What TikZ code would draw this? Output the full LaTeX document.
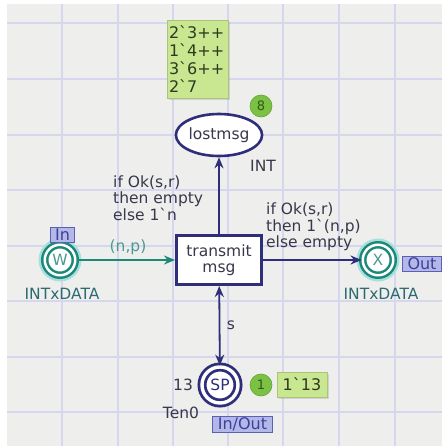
\documentclass[tikz,border=0pt]{standalone}
\usepackage{fontspec}
\newfontfamily\cpnfont{DejaVu Sans}
\usetikzlibrary{arrows.meta,shapes.geometric,shadows}

\definecolor{canvas}{HTML}{EEEEEC}
\definecolor{gridline}{HTML}{D6D6EE}
\definecolor{navy}{HTML}{2E2E7A}
\definecolor{tealc}{HTML}{1B8878}
\definecolor{tealtext}{HTML}{4A9A90}
\definecolor{tealglow}{HTML}{A8E0E0}
\definecolor{tagfill}{HTML}{B4B8E8}
\definecolor{tagdraw}{HTML}{5A60B4}
\definecolor{tagtext}{HTML}{3C4098}
\definecolor{tokfill}{HTML}{7CC144}
\definecolor{tokdraw}{HTML}{62A634}
\definecolor{toktext}{HTML}{2C5A14}
\definecolor{markfill}{HTML}{C9E690}
\definecolor{marktext}{HTML}{2E3A1E}
\definecolor{inscr}{HTML}{38384C}
\definecolor{typec}{HTML}{2C6A72}

\tikzset{
  txt/.style={font=\cpnfont\fontsize{15.5}{16.5}\selectfont, inner sep=0pt},
  transbox/.style={txt, draw=navy, line width=2.6pt, fill=white,
    minimum width=85.4pt, minimum height=49.4pt, align=center, text=inscr},
  lostplace/.style={txt, ellipse, draw=navy, line width=2.6pt, fill=white,
    minimum width=79.4pt, minimum height=42pt, text=inscr},
  tealplace/.style={txt, circle, draw=tealc, line width=2.5pt, double=white,
    double distance=2.5pt, fill=white, minimum size=30.5pt, text=tealtext},
  spplace/.style={txt, circle, draw=navy, line width=2.8pt, double=white,
    double distance=3.4pt, fill=white, minimum size=36pt, text=navy},
  porttag/.style={font=\cpnfont\fontsize{16}{16}\selectfont, draw=tagdraw,
    fill=tagfill, line width=1pt, text=tagtext, inner xsep=5pt,
    inner ysep=0pt, minimum height=15.5pt},
  token/.style={circle, fill=tokfill, draw=tokdraw, line width=0.6pt,
    minimum size=22pt, inner sep=0pt, text=toktext,
    font=\cpnfont\fontsize{13}{13}\selectfont},
  marking/.style={font=\cpnfont\fontsize{16}{18}\selectfont, fill=markfill,
    draw=markfill!85!black, line width=0.4pt, text=marktext, align=left,
    inner sep=2pt,
    drop shadow={shadow xshift=2pt, shadow yshift=-2pt, opacity=0.25}},
  inscrtxt/.style={txt, text=inscr, align=left},
  navyarc/.style={draw=navy, line width=1.8pt, -{Stealth[length=11pt,width=9pt]}},
  tealarc/.style={draw=tealc, line width=1.8pt, -{Stealth[length=11pt,width=9pt]}},
}

\begin{document}
\begin{tikzpicture}[x=1pt,y=-1pt]
\useasboundingbox (0,0) rectangle (442,446);
% page and grid
\fill[white] (0,0) rectangle (442,446);
\fill[canvas] (7,4) rectangle (442,446);
\foreach \gx in {62,118,173,228,283,339,395}
  \draw[gridline, line width=1.6pt] (\gx,4) -- (\gx,446);
\foreach \gy in {23,79,135,190,246,301,357,412}
  \draw[gridline, line width=1.6pt] (7,\gy) -- (442,\gy);

% transition and places
\node[transbox] (tr) at (219,260) {transmit\\msg};
\node[lostplace] (lost) at (219,135) {lostmsg};
\fill[tealglow] (60,260) circle[radius=21.5];
\node[tealplace] (W) at (60,260) {W};
\fill[tealglow] (378,260) circle[radius=21.5];
\node[tealplace] (X) at (378,260) {X};
\node[spplace] (SP) at (220,385) {SP};

% arcs
\draw[tealarc] (W) -- (tr);
\draw[navyarc] (tr) -- (lost);
\draw[navyarc] (tr) -- (X);
\draw[navyarc, {Stealth[length=11pt,width=9pt]}-{Stealth[length=11pt,width=9pt]}] (tr) -- (SP);

% arc inscriptions
\node[inscrtxt, anchor=west] (inLost) at (113,198) {if Ok(s,r)\\then empty\\else 1`n};
\node[inscrtxt, anchor=west] (inOut) at (266,227) {if Ok(s,r)\\then 1`(n,p)\\else empty};
\node[txt, text=tealtext] (inNP) at (128,247) {(n,p)};
\node[txt, text=inscr] (inS) at (231,325) {s};

% colour sets, initial marking, port tags
\node[txt, text=inscr] (tyLost) at (263,166) {INT};
\node[txt, text=typec] (tyW) at (62,294) {INTxDATA};
\node[txt, text=typec] (tyX) at (381,294) {INTxDATA};
\node[txt, text=inscr] (tySP) at (181,413) {Ten0};
\node[txt, text=inscr] (initSP) at (183,385) {13};
\node[porttag] (tagIn) at (62.5,235) {In};
\node[porttag] (tagOut) at (422,264) {Out};
\node[porttag] (tagIO) at (242.5,424.5) {In/Out};

% current markings
\node[token] (tokLost) at (261,106) {8};
\node[marking, minimum width=61pt, minimum height=78pt, text width=57pt] (mkLost) at (197.5,59) {2`3++\\1`4++\\3`6++\\2`7};
\node[token] (tokSP) at (261,385) {1};
\node[marking, minimum width=50pt, minimum height=25pt] (mkSP) at (302,384.5) {1`13};
\end{tikzpicture}
\end{document}
